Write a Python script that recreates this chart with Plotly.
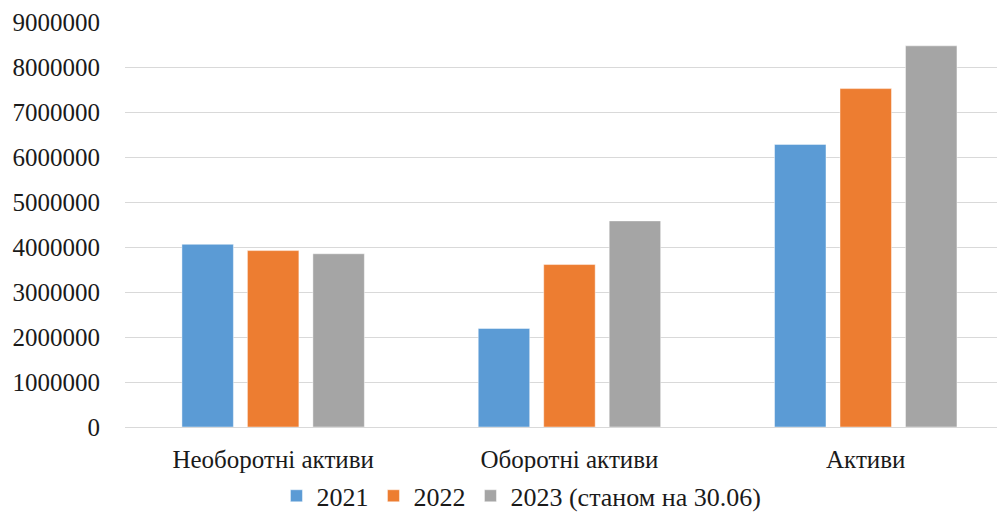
import plotly.graph_objects as go

categories = ["Необоротні активи", "Оборотні активи", "Активи"]
series_names = ["2021", "2022", "2023 (станом на 30.06)"]
values_2021 = [4060000, 2190000, 6280000]
values_2022 = [3920000, 3610000, 7520000]
values_2023 = [3850000, 4580000, 8470000]
colors = ["#5B9BD5", "#ED7D31", "#A5A5A5"]
y_ticks = list(range(0, 9000001, 1000000))

FONT = '"Liberation Serif", "Times New Roman", serif'
TXT = "#1a1a1a"

fig = go.Figure()
for name, vals, col in zip(series_names, [values_2021, values_2022, values_2023], colors):
    fig.add_trace(go.Bar(
        x=categories, y=vals, name=name,
        marker=dict(color=col, line=dict(color="rgba(255,255,255,0.45)", width=1)),
    ))

# page body has an 8px margin in the browser, so the figure is sized/offset for that
fig.update_layout(
    width=997, height=504,
    margin=dict(l=117, r=0, t=14, b=85, autoexpand=False),
    paper_bgcolor="white", plot_bgcolor="white",
    barmode="group", bargap=0.337, bargroupgap=0.214,
    font=dict(family=FONT, color=TXT, size=25),
    showlegend=True,
    legend=dict(orientation="h", xref="container", yref="container",
                x=0.515, y=0.032, xanchor="center", yanchor="middle",
                font=dict(family=FONT, size=26, color=TXT),
                itemwidth=30, tracegroupgap=0),
    xaxis=dict(range=[-0.5, 2.470], showgrid=False, showline=False, zeroline=False,
               ticks="", automargin=False,
               tickfont=dict(family=FONT, size=25, color=TXT),
               ticklabelstandoff=15),
    yaxis=dict(range=[0, 9000000], tickvals=y_ticks, tickformat="d",
               showgrid=True, gridcolor="#D9D9D9", gridwidth=1,
               zeroline=True, zerolinecolor="#D9D9D9", zerolinewidth=1,
               showline=False, ticks="", automargin=False,
               tickfont=dict(family=FONT, size=25, color=TXT),
               ticklabelstandoff=24),
)

fig.write_html("out.html")
